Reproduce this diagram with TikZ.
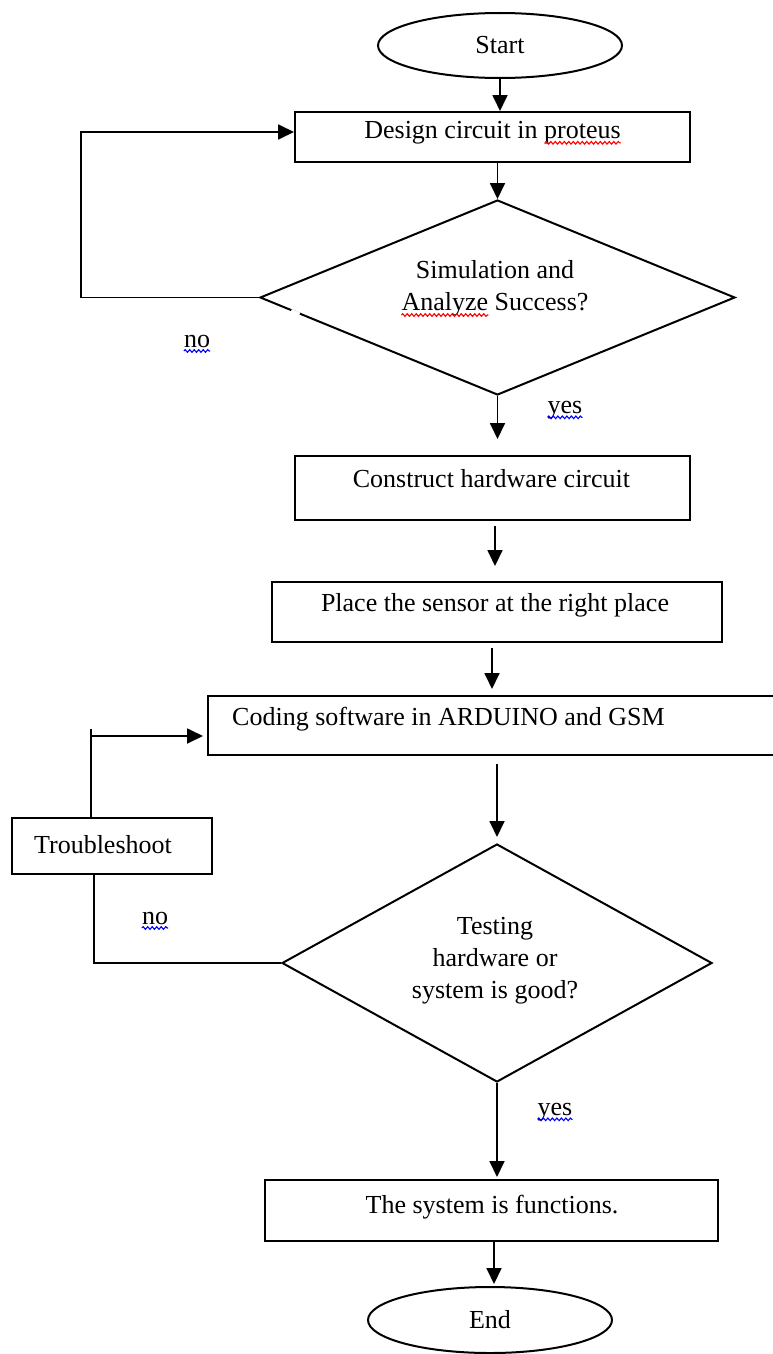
\documentclass[tikz,border=0pt]{standalone}
\usepackage{fontspec}
\setmainfont{Liberation Serif}
\usetikzlibrary{shapes.geometric,arrows.meta,calc,decorations.pathmorphing}
\begin{document}
\begin{tikzpicture}[x=1pt,y=-1pt,
 every node/.style={font=\fontsize{26}{32}\selectfont},
 box/.style={draw, line width=2pt, rectangle, inner sep=0pt},
 term/.style={draw, line width=2pt, ellipse, inner sep=0pt},
 dec/.style={draw, line width=2pt, diamond, inner sep=0pt},
 txt/.style={inner sep=0pt, align=center},
 arr/.style={line width=1.8pt, -{Triangle[length=16pt,width=15pt]}},
 ln/.style={line width=1.8pt},
 spell/.style={decorate, decoration={snake, amplitude=1.3pt, segment length=4.5pt}, line width=1.1pt},
]
\useasboundingbox (0,0) rectangle (773,1354);

% shapes
\node[term, minimum width=244pt, minimum height=65pt] (start) at (500,45.5) {Start};
\node[box, minimum width=395pt, minimum height=50pt] (design) at (492.5,137) {};
\node[txt] (designtxt) at (492.5,133) {Design circuit in proteus};
\node[dec, minimum width=475pt, minimum height=195pt] (dec1) at (497.5,297.5) {};
\node[txt] (dec1txt) at (495,288) {Simulation and\\Analyze Success?};
\node[box, minimum width=395pt, minimum height=64pt] (construct) at (492.5,488) {};
\node[txt] (constructtxt) at (491.5,479) {Construct hardware circuit};
\node[box, minimum width=450pt, minimum height=60pt] (place) at (497,612) {};
\node[txt] (placetxt) at (495,605) {Place the sensor at the right place};
\node[box, minimum width=568pt, minimum height=59pt] (coding) at (492,725.5) {};
\node[txt] (codingtxt) at (448.5,719) {Coding software in ARDUINO and GSM};
\node[dec, minimum width=430pt, minimum height=238pt] (dec2) at (497,963) {};
\node[txt] (dec2txt) at (495,961) {Testing\\hardware or\\system is good?};
\node[box, minimum width=200pt, minimum height=56pt] (trouble) at (112,846) {};
\node[txt] (troubletxt) at (103,845) {Troubleshoot};
\node[box, minimum width=453pt, minimum height=61pt] (system) at (491.5,1210.5) {};
\node[txt] (systemtxt) at (492,1207) {The system is functions.};
\node[term, minimum width=244pt, minimum height=66pt] (end) at (490,1320) {End};

% small gap in the first decision's lower-left edge
\draw[white, line width=3.6pt] ($(dec1.west)!0.135!(dec1.south)$) -- ($(dec1.west)!0.17!(dec1.south)$);

% connectors
\draw[arr] (start.south) -- (start.south |- design.north);
\draw[arr] (dec1.north |- design.south) -- (dec1.north);
\draw[arr] (dec1.west) -- ++(-178,0) |- ([yshift=5pt]design.west);
\draw[arr, shorten >=16pt] (dec1.south) -- (dec1.south |- construct.north);
\draw[arr, shorten <=5pt, shorten >=15pt] ([xshift=2.5pt]construct.south) -- ([xshift=2.5pt]construct.south |- place.north);
\draw[arr, shorten <=5pt, shorten >=6pt] (place.south -| coding.north) -- (coding.north);
\draw[arr, shorten <=8pt, shorten >=6pt] (dec2.north |- coding.south) -- (dec2.north);
\draw[ln] (dec2.west) -| ([xshift=-18pt]trouble.south);
\draw[ln] ([xshift=-21pt]trouble.north) -- ++(0,-88) coordinate (tbtop);
\draw[arr, shorten >=4pt] ([yshift=-7pt]tbtop) -- ([yshift=-7pt]tbtop -| coding.west);
\draw[arr, shorten >=2pt] (dec2.south) -- (dec2.south |- system.north);
\draw[arr, shorten >=2pt] ([xshift=2.5pt]system.south) -- ([xshift=2.5pt]system.south |- end.north);

% branch labels
\node[txt] (no1) at (197,341) {no};
\node[txt] (yes1) at (565,410) {yes};
\node[txt] (no2) at (155,918) {no};
\node[txt] (yes2) at (555,1112) {yes};

% spell-check underlines
\draw[spell, blue] ([yshift=-4pt]no1.base west) -- ([yshift=-4pt]no1.base east);
\draw[spell, blue] ([yshift=-4pt]yes1.base west) -- ([yshift=-4pt]yes1.base east);
\draw[spell, blue] ([yshift=-4pt]no2.base west) -- ([yshift=-4pt]no2.base east);
\draw[spell, blue] ([yshift=-4pt]yes2.base west) -- ([yshift=-4pt]yes2.base east);
\draw[spell, red] ([xshift=-76pt, yshift=-4pt]designtxt.base east) -- ([yshift=-4pt]designtxt.base east);
\draw[spell, red] ([yshift=1pt]dec1txt.south west) -- ++(87,0);
\end{tikzpicture}
\end{document}
